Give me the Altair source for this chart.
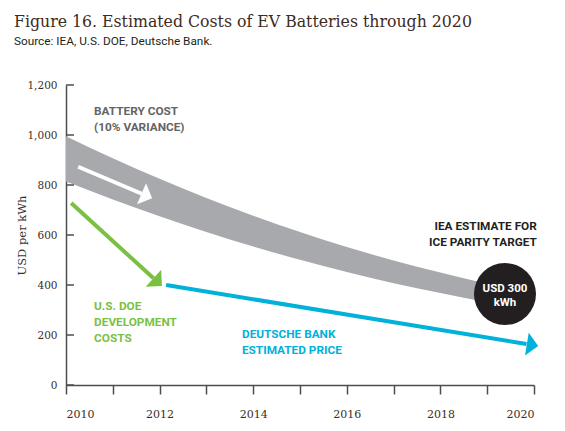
import altair as alt
import pandas as pd

# ---- data ----
band_years = [2010, 2011, 2012, 2013, 2014, 2015, 2016, 2017, 2018, 2019]
band_upper = [995, 907, 825, 748, 677, 612, 552, 498, 450, 405]
band_lower = [814, 742, 675, 612, 554, 501, 452, 407, 368, 331]

arrow_names = ["white", "green", "blue"]
arrow_x0 = [2010.26, 2010.11, 2012.14]
arrow_y0 = [873, 728, 400]
arrow_x1 = [2011.62, 2011.87, 2019.84]   # line end (arrowhead base)
arrow_y1 = [765, 427, 164]
tip_x = [2011.84, 2012.05, 2020.09]
tip_y = [747, 396, 156]
tip_angle = [23.1, 42.4, 9.3]
arrow_colors = ["#ffffff", "#7ac143", "#00b1d9"]

target_year = [2019.38]
target_value = [364]

label_texts = ["BATTERY COST\n(10% VARIANCE)", "U.S. DOE\nDEVELOPMENT\nCOSTS",
               "DEUTSCHE BANK\nESTIMATED PRICE", "IEA ESTIMATE FOR\nICE PARITY TARGET"]
label_x = [2010.6, 2010.6, 2013.76, 2020.06]
label_y = [1080, 300, 188, 620]
label_align = ["left", "left", "left", "right"]
label_colors = ["#636466", "#7ac143", "#00b1d9", "#231f20"]

circle_text = ["USD 300\nkWh"]
y_ticks = [0, 200, 400, 600, 800, 1000, 1200]
x_ticks = list(range(2010, 2021))

AX = "#4d4d4f"
LAB = "#3c2e26"

band_df = pd.DataFrame({"year": band_years, "upper": band_upper, "lower": band_lower})
line_rows = []
for i, n in enumerate(arrow_names):
    line_rows.append({"arrow": n, "order": 0, "year": arrow_x0[i], "value": arrow_y0[i]})
    line_rows.append({"arrow": n, "order": 1, "year": arrow_x1[i], "value": arrow_y1[i]})
line_df = pd.DataFrame(line_rows)
tip_df = pd.DataFrame({"arrow": arrow_names, "year": tip_x, "value": tip_y, "angle": tip_angle})
lab_df = pd.DataFrame({"text": label_texts, "year": label_x, "value": label_y,
                       "align": label_align, "color": label_colors})

xs = alt.Scale(domain=[2010, 2020], nice=False, zero=False)
ys = alt.Scale(domain=[0, 1200], nice=False)

xax = alt.Axis(values=x_ticks, labelExpr="datum.value % 2 == 0 ? datum.value : ''",
               tickSize=9, tickColor=AX, domainColor=AX, tickWidth=1.5, domainWidth=1.5,
               labelFlush=True, labelPadding=14, labelFont="DejaVu Serif", labelFontSize=11,
               labelColor=LAB, title=None, grid=False)
yax = alt.Axis(values=y_ticks, labelExpr="format(datum.value, ',')", ticks=False, tickSize=0,
               domainColor=AX, domainWidth=1.5,
               labelPadding=9, labelFont="DejaVu Serif", labelFontSize=10.5, labelColor=LAB,
               title="USD per kWh", titleFont="DejaVu Serif", titleFontSize=11.5,
               titleFontWeight="normal", titleColor=LAB, titleX=-44, titleY=150,
               titleAlign="center", titleBaseline="middle", grid=False)

band = alt.Chart(band_df).mark_area(color="#a7a9ac", interpolate="monotone").encode(
    x=alt.X("year:Q", scale=xs, axis=xax),
    y=alt.Y("upper:Q", scale=ys, axis=yax),
    y2="lower:Q",
)

lines = alt.Chart(line_df).mark_line(strokeWidth=4, strokeCap="butt").encode(
    x="year:Q", y="value:Q", order="order:Q",
    color=alt.Color("arrow:N", scale=alt.Scale(domain=arrow_names, range=arrow_colors), legend=None),
)

tips = alt.Chart(tip_df).mark_point(shape="M-1,-1L0,0L-1,1Z", filled=True, size=529, opacity=1,
                                     strokeWidth=0).encode(
    x="year:Q", y="value:Q",
    angle=alt.Angle("angle:Q", scale=None),
    color=alt.Color("arrow:N", scale=alt.Scale(domain=arrow_names, range=arrow_colors), legend=None),
)

circle_df = pd.DataFrame({"year": target_year, "value": target_value, "text": circle_text})
circle = alt.Chart(circle_df).mark_point(shape="circle", filled=True, size=3848, color="#231f20",
                                         opacity=1, strokeWidth=0).encode(x="year:Q", y="value:Q")
circle_lab = alt.Chart(circle_df).mark_text(font="Roboto", fontWeight="bold", fontSize=11.5,
                                            color="#ffffff", lineBreak="\n", lineHeight=14,
                                            baseline="alphabetic", dy=-2).encode(
    x="year:Q", y="value:Q", text="text:N")

texts = []
for i in range(len(label_texts)):
    texts.append(alt.Chart(lab_df.iloc[[i]]).mark_text(
        font="Roboto", fontWeight="bold", fontSize=11.8, align=label_align[i],
        baseline="alphabetic", lineBreak="\n", lineHeight=16, color=label_colors[i]
    ).encode(x="year:Q", y="value:Q", text="text:N"))

yticks = alt.Chart(pd.DataFrame({"value": y_ticks})).mark_rule(color=AX, strokeWidth=1.5).encode(
    y="value:Q", x=alt.value(0), x2=alt.value(8))

chart = alt.layer(band, lines, tips, circle, circle_lab, *texts, yticks).properties(
    width=468, height=300,
    autosize=alt.AutoSizeParams(type="none"),
    padding={"left": 66, "top": 85, "right": 31, "bottom": 46},
    title=alt.TitleParams(
        text="Figure 16. Estimated Costs of EV Batteries through 2020",
        subtitle="Source: IEA, U.S. DOE, Deutsche Bank.",
        anchor="start", frame="group", dx=-52, offset=32,
        font="DejaVu Serif Condensed", fontSize=17.5, fontWeight="normal", color="#3d2b1f",
        subtitleFont="Roboto", subtitleFontSize=11.8, subtitleColor="#231f20", subtitlePadding=6,
    ),
).configure_view(stroke=None)

chart.save("out.html", embed_options={"renderer": "svg", "actions": False})
